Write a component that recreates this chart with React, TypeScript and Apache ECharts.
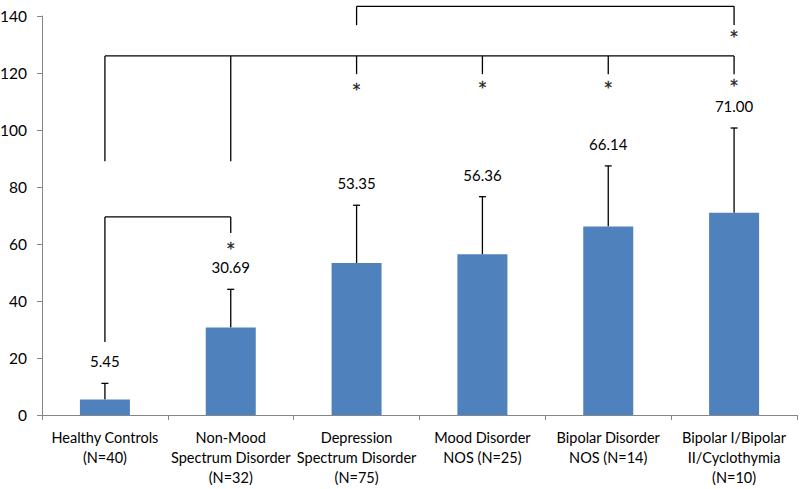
import React, { useEffect, useRef } from "react";
import * as echarts from "echarts";

const categories = [
  "Healthy Controls\n(N=40)",
  "Non-Mood\nSpectrum Disorder\n(N=32)",
  "Depression\nSpectrum Disorder\n(N=75)",
  "Mood Disorder\nNOS (N=25)",
  "Bipolar Disorder\nNOS (N=14)",
  "Bipolar I/Bipolar\nII/Cyclothymia\n(N=10)",
];
const means = [5.45, 30.69, 53.35, 56.36, 66.14, 71.0];
const upperErrors = [11.1, 44.1, 73.6, 76.6, 87.4, 100.7];
const valueLabels = ["5.45", "30.69", "53.35", "56.36", "66.14", "71.00"];
const yMin = 0;
const yMax = 140;
const yInterval = 20;

// significance brackets: segments [x1, y1, x2, y2] in (category index, value)
const bracketSegments = [
  [2, 136.8, 2, 143.4], [2, 143.4, 5, 143.4], [5, 143.4, 5, 136.8],
  [0, 89, 0, 126], [0, 126, 5, 126], [1, 89, 1, 126],
  [2, 126, 2, 119.6], [3, 126, 3, 119.6], [4, 126, 4, 119.6], [5, 126, 5, 119.6],
  [0, 25.6, 0, 69.5], [0, 69.5, 1, 69.5], [1, 69.5, 1, 63.9],
];
const asterisks = [
  [5, 134.2], [2, 115.3], [3, 116.2], [4, 116.2], [5, 116.8], [1, 59.6],
];

const FONT = "Lato, 'Open Sans', sans-serif";

export default function App() {
  const ref = useRef<HTMLDivElement>(null);
  useEffect(() => {
    if (!ref.current) return;
    const chart = echarts.init(ref.current, null, { renderer: "svg" });
    chart.setOption({
      animation: false,
      textStyle: { fontFamily: FONT },
      grid: { left: 42, right: 3, top: 16, bottom: 74, containLabel: false, outerBoundsMode: "none" },
      xAxis: {
        type: "category",
        data: categories,
        axisLine: { lineStyle: { color: "#868686", width: 1 } },
        axisTick: { show: true, length: 5, alignWithLabel: false, lineStyle: { color: "#868686" } },
        axisLabel: {
          interval: 0,
          color: "#000",
          fontSize: 14.5,
          lineHeight: 20,
          margin: 12,
          fontFamily: FONT,
        },
      },
      yAxis: {
        type: "value",
        min: yMin,
        max: yMax,
        interval: yInterval,
        splitLine: { show: false },
        axisLine: { show: true, lineStyle: { color: "#868686", width: 1 } },
        axisTick: { show: true, length: 5, lineStyle: { color: "#868686" } },
        axisLabel: { color: "#000", fontSize: 15.5, margin: 15, fontFamily: FONT },
      },
      series: [
        {
          type: "bar",
          data: means,
          barWidth: 50,
          itemStyle: { color: "#4F81BD" },
        },
        {
          type: "custom",
          clip: false,
          itemStyle: { color: "#000" },
          data: means.map((m, i) => [i, m, upperErrors[i]]),
          renderItem: (params: any, api: any) => {
            const i = api.value(0);
            const base = api.coord([i, api.value(1)]);
            const top = api.coord([i, api.value(2)]);
            return {
              type: "group",
              children: [
                {
                  type: "line",
                  shape: { x1: base[0], y1: base[1], x2: top[0], y2: top[1] },
                  style: { stroke: "#000", lineWidth: 1.3 },
                },
                {
                  type: "line",
                  shape: { x1: top[0] - 3.5, y1: top[1], x2: top[0] + 3.5, y2: top[1] },
                  style: { stroke: "#000", lineWidth: 1.3 },
                },
                {
                  type: "text",
                  x: top[0],
                  y: top[1] - 22,
                  style: {
                    text: valueLabels[params.dataIndex],
                    fill: "#000",
                    font: `15px ${FONT}`,
                    align: "center",
                    verticalAlign: "middle",
                  },
                },
              ],
            };
          },
        },
        {
          type: "custom",
          clip: false,
          itemStyle: { color: "#000" },
          data: bracketSegments,
          renderItem: (params: any, api: any) => {
            const p1 = api.coord([api.value(0), api.value(1)]);
            const p2 = api.coord([api.value(2), api.value(3)]);
            return {
              type: "line",
              shape: { x1: p1[0], y1: p1[1], x2: p2[0], y2: p2[1] },
              style: { stroke: "#000", lineWidth: 1.3 },
            };
          },
        },
        {
          type: "custom",
          clip: false,
          itemStyle: { color: "#000" },
          data: asterisks,
          renderItem: (params: any, api: any) => {
            const p = api.coord([api.value(0), api.value(1)]);
            return {
              type: "text",
              x: p[0],
              y: p[1] + 4,
              style: {
                text: "*",
                fill: "#222",
                stroke: "#222",
                lineWidth: 0.3,
                font: `15px 'DejaVu Sans', sans-serif`,
                align: "center",
                verticalAlign: "middle",
              },
            };
          },
        },
      ],
    });
    return () => chart.dispose();
  }, []);
  return <div ref={ref} style={{ width: 800, height: 489, position: "absolute", left: 0, top: 0 }} />;
}
